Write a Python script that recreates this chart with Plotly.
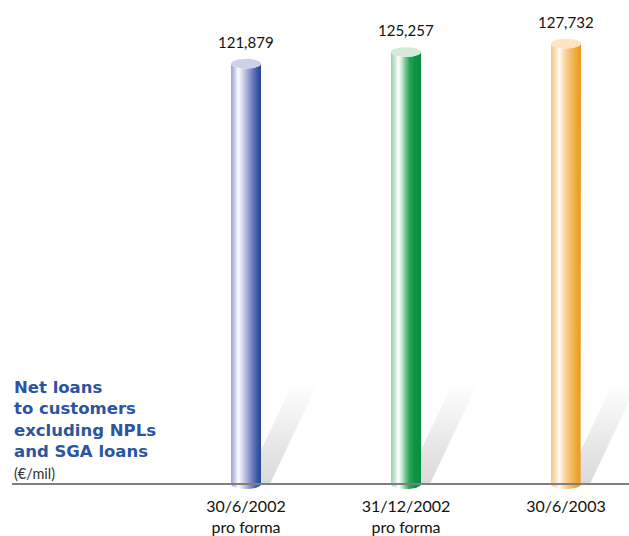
import numpy as np
import plotly.graph_objects as go

# Data
categories = ["30/6/2002", "31/12/2002", "30/6/2003"]
subtitles = ["pro forma", "pro forma", ""]
values = [121879, 125257, 127732]
value_labels = ["121,879", "125,257", "127,732"]

title_lines = ["Net loans", "to customers", "excluding NPLs", "and SGA loans"]
unit_label = "(€/mil)"

# Cylinder colour schemes: left-to-right horizontal shading + cap colour
body_scales = [
    [[0, "#9ea2d2"], [0.12, "#c6c9e8"], [0.24, "#ffffff"], [0.34, "#e2e4f3"],
     [0.5, "#b2b7dc"], [0.72, "#6d7bbf"], [0.9, "#3454a4"], [1, "#2a4894"]],
    [[0, "#98d0aa"], [0.12, "#c6e6d0"], [0.25, "#ffffff"], [0.35, "#cfebd8"],
     [0.48, "#78c494"], [0.62, "#28a456"], [0.8, "#0c9444"], [1, "#08903f"]],
    [[0, "#f7c888"], [0.14, "#fcdcb2"], [0.28, "#ffffff"], [0.38, "#fde3bf"],
     [0.58, "#f6c57e"], [0.82, "#efaa3c"], [1, "#e8981a"]],
]
cap_colors = ["#cdd0ea", "#d3ebdb", "#fde5c4"]

# Geometry (pixel-based scales)
W, H = 629, 536
PLOT_H = 500
BASE_PX = 489          # pixel row of the zero line
S = 287.0              # value units per pixel
PXU = 160.0            # pixels per category step
X0_PX = 246            # pixel column of the first category
x_range = [-X0_PX / PXU, (W - X0_PX) / PXU]
y_range = [-(PLOT_H - BASE_PX) * S, BASE_PX * S]

half_w = 15 / PXU      # cylinder half width
ry = 5 * S             # ellipse vertical semi-axis

fig = go.Figure()
t = np.linspace(0, np.pi, 40)

# Slanted shadows behind the cylinders
sh_h = 105
slope = 0.467
for i, v in enumerate(values):
    xs_px = [-1, 24, 24 + slope * sh_h, -1 + slope * sh_h, -1]
    ys_px = [0, 0, sh_h, sh_h, 0]
    fig.add_trace(go.Scatter(
        x=[i + p / PXU for p in xs_px], y=[p * S for p in ys_px],
        mode="lines", line=dict(width=0), fill="toself",
        fillgradient=dict(type="vertical", start=0, stop=sh_h * S,
                          colorscale=[[0, "#d8d8d8"], [0.5, "#eaeaea"], [1, "#ffffff"]]),
        hoverinfo="skip", showlegend=False))

# Cylinders
for i, v in enumerate(values):
    # body: sides + front half of bottom ellipse + front half of top ellipse
    top_x = list(i - half_w * np.cos(t))
    top_y = list(v - ry * np.sin(t))
    bot_x = list(i + half_w * np.cos(t))
    bot_y = list(0 - ry * np.sin(t))
    bx = top_x + bot_x + [top_x[0]]
    by = top_y + bot_y + [top_y[0]]
    fig.add_trace(go.Scatter(
        x=bx, y=by, mode="lines", line=dict(width=0), fill="toself",
        fillgradient=dict(type="horizontal", start=i - half_w, stop=i + half_w,
                          colorscale=body_scales[i]),
        hoverinfo="skip", showlegend=False))
    # cap
    tt = np.linspace(0, 2 * np.pi, 80)
    fig.add_trace(go.Scatter(
        x=i + half_w * np.cos(tt), y=v + ry * np.sin(tt),
        mode="lines", line=dict(width=0), fill="toself",
        fillcolor=cap_colors[i], hoverinfo="skip", showlegend=False))

# Value labels above each cylinder
for i, (v, lab) in enumerate(zip(values, value_labels)):
    fig.add_annotation(x=i, y=v, text=lab, showarrow=False, yanchor="bottom",
                       yshift=11, font=dict(family="Lato", size=15, color="#111111"))

# Zero line
fig.add_shape(type="line", xref="paper", yref="y", x0=12 / W, x1=1, y0=0, y1=0,
              line=dict(color="#7f7f7f", width=2))

# Left-hand title block
def py(p):
    return (PLOT_H - p) / PLOT_H

fig.add_annotation(xref="paper", yref="paper", x=12 / W, y=py(380),
                   text="<b>" + "<br>".join(title_lines) + "</b>", showarrow=False,
                   xanchor="left", yanchor="top", align="left",
                   font=dict(family="DejaVu Sans", size=16.5, color="#2c54a2"))
fig.add_annotation(xref="paper", yref="paper", x=12 / W, y=py(478), text=unit_label,
                   showarrow=False, xanchor="left", yanchor="middle",
                   font=dict(family="Lato", size=14.5, color="#333333"))

ticktext = [c + ("<br>" + s if s else "") for c, s in zip(categories, subtitles)]

fig.update_layout(
    width=W, height=H, margin=dict(l=0, r=0, t=0, b=H - PLOT_H),
    paper_bgcolor="white", plot_bgcolor="white",
    xaxis=dict(range=x_range, tickvals=list(range(len(categories))), ticktext=ticktext,
               showgrid=False, zeroline=False, showline=False, ticks="",
               tickfont=dict(family="Lato", size=16, color="#111111"), fixedrange=True),
    yaxis=dict(range=y_range, visible=False, fixedrange=True),
    showlegend=False,
)

fig.write_html("out.html")
